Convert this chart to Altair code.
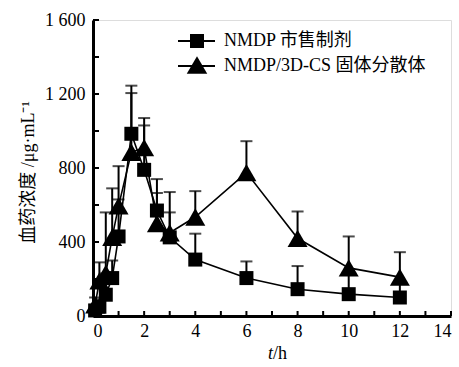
import altair as alt
import pandas as pd

# sampling times (h)
times = [0.083, 0.25, 0.5, 0.75, 1, 1.5, 2, 2.5, 3, 4, 6, 8, 10, 12]
# NMDP market product (squares)
market_mean = [30, 50, 115, 205, 430, 985, 790, 570, 425, 305, 205, 145, 118, 100]
market_upper = [60, 90, 230, 300, 630, 1245, 1030, 740, 670, 445, 295, 270, 230, 190]
# NMDP/3D-CS solid dispersion (triangles)
sd_mean = [60, 190, 230, 425, 595, 885, 910, 500, 450, 535, 775, 420, 260, 210]
sd_upper = [100, 290, 560, 690, 810, 1205, 1070, 665, 560, 675, 945, 565, 430, 345]

series_names = ["NMDP 市售制剂", "NMDP/3D-CS 固体分散体"]
y_major = [0, 400, 800, 1200, 1600]
y_minor = [0, 200, 400, 600, 800, 1000, 1200, 1400, 1600]
x_major = [0, 2, 4, 6, 8, 10, 12, 14]
x_minor = list(range(0, 15))

df_m = pd.DataFrame({"t": times, "v": market_mean, "up": market_upper})
df_s = pd.DataFrame({"t": times, "v": sd_mean, "up": sd_upper})

SERIF = "Liberation Serif, Noto Sans CJK SC"
W, H = 358, 296

xs = alt.Scale(domain=[0, 14], nice=False)
ys = alt.Scale(domain=[0, 1600], nice=False)

x_axis = alt.Axis(values=x_major, ticks=False, grid=False, domainWidth=3, domainColor="black",
                  labelFont=SERIF, labelFontSize=18, labelColor="black", labelPadding=6, title=None)
y_axis = alt.Axis(values=y_major, ticks=False, grid=False, domainWidth=3, domainColor="black",
                  labelFont=SERIF, labelFontSize=18, labelColor="black", labelPadding=8,
                  labelExpr="replace(format(datum.value, ','), ',', ' ')",
                  title="血药浓度 /μg·mL⁻¹", titleFont=SERIF, titleFontSize=18, titleFontWeight="normal",
                  titleColor="black", titleX=-65, titleY=152, titleAngle=270, titleAlign="center",
                  titleBaseline="middle")

def series(df, shape, size):
    base = alt.Chart(df)
    err = base.mark_rule(color="black", strokeWidth=2).encode(
        x=alt.X("t:Q", scale=xs, axis=x_axis), y=alt.Y("v:Q", scale=ys, axis=y_axis), y2="up:Q")
    cap = base.mark_tick(color="black", orient="horizontal", size=12, thickness=2).encode(
        x=alt.X("t:Q", scale=xs), y=alt.Y("up:Q", scale=ys))
    line = base.mark_line(color="black", strokeWidth=1.6).encode(
        x=alt.X("t:Q", scale=xs), y=alt.Y("v:Q", scale=ys))
    pts = base.mark_point(shape=shape, size=size, filled=True, color="black", opacity=1).encode(
        x=alt.X("t:Q", scale=xs), y=alt.Y("v:Q", scale=ys))
    return [err, cap, line, pts]

# inward ticks
ytick_df = pd.DataFrame({"v": y_minor})
yticks = alt.Chart(ytick_df).mark_rule(color="black", strokeWidth=2).encode(
    y=alt.Y("v:Q", scale=ys), x=alt.value(0), x2=alt.value(6))
xtick_df = pd.DataFrame({"t": x_minor})
xticks = alt.Chart(xtick_df).mark_rule(color="black", strokeWidth=2).encode(
    x=alt.X("t:Q", scale=xs), y=alt.value(H), y2=alt.value(H - 5))

# legend
leg = pd.DataFrame({"label": series_names, "row": [0, 1]})
leg_line1 = alt.Chart(leg.iloc[[0]]).mark_rule(color="black", strokeWidth=2).encode(
    x=alt.value(85), x2=alt.value(122), y=alt.value(21))
leg_line2 = alt.Chart(leg.iloc[[1]]).mark_rule(color="black", strokeWidth=2).encode(
    x=alt.value(85), x2=alt.value(122), y=alt.value(46))
leg_sq = alt.Chart(leg.iloc[[0]]).mark_point(shape="square", size=196, filled=True, color="black", opacity=1).encode(
    x=alt.value(104), y=alt.value(21))
leg_tri = alt.Chart(leg.iloc[[1]]).mark_point(shape="triangle-up", size=420, filled=True, color="black", opacity=1).encode(
    x=alt.value(104), y=alt.value(45))
leg_txt1 = alt.Chart(leg.iloc[[0]]).mark_text(font=SERIF, fontSize=18, align="left", baseline="middle", color="black").encode(
    x=alt.value(131), y=alt.value(21), text="label:N")
leg_txt2 = alt.Chart(leg.iloc[[1]]).mark_text(font=SERIF, fontSize=18, align="left", baseline="middle", color="black").encode(
    x=alt.value(131), y=alt.value(46), text="label:N")

# x title "t/h"
xt = pd.DataFrame({"a": ["t"], "b": ["/h"]})
xt1 = alt.Chart(xt).mark_text(font=SERIF, fontSize=18, fontStyle="italic", align="right", baseline="middle", color="black").encode(
    x=alt.value(180), y=alt.value(334), text="a:N")
xt2 = alt.Chart(xt).mark_text(font=SERIF, fontSize=18, align="left", baseline="middle", color="black").encode(
    x=alt.value(180), y=alt.value(334), text="b:N")

layers = series(df_m, "square", 196) + series(df_s, "triangle-up", 400)
layers = [layers[0], yticks, xticks] + layers[1:] + [leg_line1, leg_line2, leg_sq, leg_tri, leg_txt1, leg_txt2, xt1, xt2]

chart = alt.layer(*layers).properties(
    width=W, height=H,
    autosize=alt.AutoSizeParams(type="none"),
    padding={"left": 93, "top": 20, "right": 8, "bottom": 51},
).configure_view(stroke=None).configure(background="white")

chart.save("out.html", embed_options={"renderer": "svg", "actions": False})
